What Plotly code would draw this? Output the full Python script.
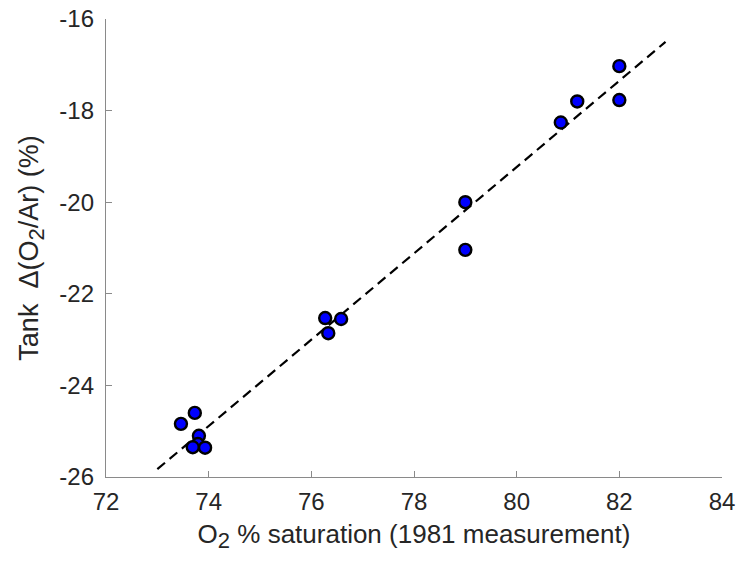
import plotly.graph_objects as go

# Data
sat_1981 = [73.46, 73.73, 73.81, 73.79, 73.69, 73.93,
            76.27, 76.58, 76.33,
            79.0, 79.0,
            80.86, 81.18, 82.0, 82.0]
tank_delta = [-24.84, -24.60, -25.10, -25.28, -25.35, -25.36,
              -22.53, -22.55, -22.86,
              -20.0, -21.04,
              -18.26, -17.80, -17.03, -17.77]

fit_x = [73.0, 82.9]
fit_y = [-25.83, -16.50]

x_ticks = [72, 74, 76, 78, 80, 82, 84]
y_ticks = [-26, -24, -22, -20, -18, -16]

font_family = "Arial, Liberation Sans, Helvetica, sans-serif"
text_color = "#262626"
axis_color = "#8a8a8a"

sub2 = '<sub><span style="font-size:22px">2</span></sub>'

fig = go.Figure()
fig.add_trace(go.Scatter(
    x=fit_x, y=fit_y, mode="lines",
    line=dict(color="black", width=2.2, dash="10px,6px"),
    showlegend=False, hoverinfo="skip"))
fig.add_trace(go.Scatter(
    x=sat_1981, y=tank_delta, mode="markers",
    marker=dict(size=12, color="#0000ff", line=dict(color="black", width=2.4)),
    showlegend=False))

fig.update_layout(
    width=738, height=567,
    margin=dict(l=106, r=16, t=19, b=90),
    paper_bgcolor="white", plot_bgcolor="white",
    font=dict(family=font_family, color=text_color, size=24),
    xaxis=dict(
        range=[72, 84], tickvals=x_ticks, ticktext=[str(v) for v in x_ticks],
        showgrid=False, zeroline=False, showline=True, linecolor=axis_color,
        linewidth=1.3, ticks="inside", ticklen=6, tickcolor=axis_color,
        tickfont=dict(size=24, color=text_color), ticklabelstandoff=3,
        ticklabeloverflow="allow", automargin=False,
        title=dict(text="O" + sub2 + " % saturation (1981 measurement)",
                   font=dict(size=26, color=text_color), standoff=10),
        mirror=False),
    yaxis=dict(
        range=[-26, -16], tickvals=y_ticks, ticktext=[str(v) for v in y_ticks],
        showgrid=False, zeroline=False, showline=True, linecolor=axis_color,
        linewidth=1.3, ticks="inside", ticklen=6, tickcolor=axis_color,
        tickfont=dict(size=24, color=text_color), ticklabelstandoff=6,
        ticklabeloverflow="allow", automargin=False,
        title=dict(text="Tank  Δ(O" + sub2 + "/Ar) (%)",
                   font=dict(size=27, color=text_color), standoff=12),
        mirror=False),
)

fig.write_html(
    "out.html",
    config={"displayModeBar": False},
    post_script="document.body.style.margin='0';document.body.style.overflow='hidden';",
)
